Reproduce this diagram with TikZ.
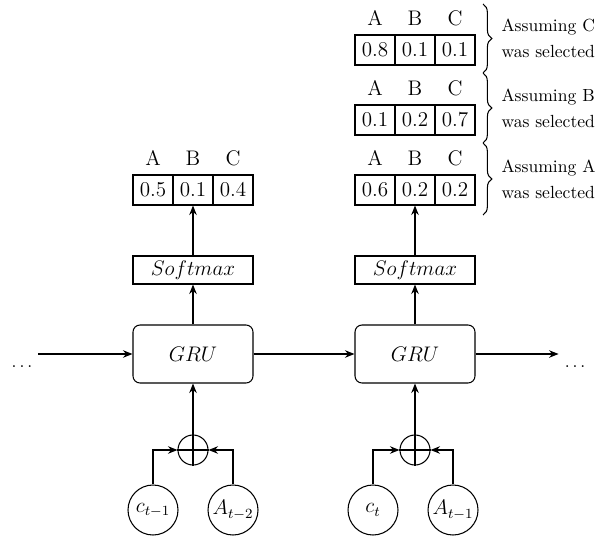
\documentclass[tikz,border=0pt]{standalone}
\usepackage{amsmath,amssymb}
\usepackage{tikz}
\usetikzlibrary{arrows.meta,positioning,calc,decorations.pathreplacing}
\tikzset{
  unit/.style={draw, rounded corners=4pt, line width=0.6pt, minimum width=2.4cm,
               minimum height=1.16cm, inner sep=0pt, font=\large},
  layer/.style={draw, line width=0.6pt, minimum width=2.4cm, minimum height=0.56cm,
                inner sep=0pt, font=\large},
  cell/.style={draw, line width=0.6pt, minimum width=0.8cm, minimum height=0.6cm,
               inner sep=0pt, font=\large},
  addop/.style={draw, circle, line width=0.6pt, minimum size=0.6cm, inner sep=0pt},
  token/.style={draw, circle, line width=0.6pt, minimum size=1cm, inner sep=0pt,
                font=\large},
  arrow/.style={-{Stealth[length=1.9mm,width=1.5mm]}, line width=0.6pt},
  assume/.style={decorate, decoration={brace, amplitude=5pt}, line width=0.6pt},
  note/.style={align=left, anchor=west, inner sep=0pt, xshift=0.36cm}
}

\begin{document}
\begin{tikzpicture}[x=1cm,y=1cm,label distance=1.5pt,every label/.style={font=\large}]
        \useasboundingbox (0,0) rectangle (11.96,10.76);
        % step t-1
        \node[unit] (gru1) at (3.86,3.68) {$GRU$};
        \node[layer] (soft1) at (3.86,5.36) {$Softmax$};
        \node[cell,label=above:A] (p1a) at (3.06,6.96) {0.5};
        \node[cell,label=above:B] (p1b) at (3.86,6.96) {0.1};
        \node[cell,label=above:C] (p1c) at (4.66,6.96) {0.4};
        \node[addop] (add1) at (3.86,1.76) {};
        \draw[line width=0.6pt] (add1.north) -- (add1.south) (add1.west) -- (add1.east);
        \node[token] (c1) at (3.06,0.56) {$c_{t-1}$};
        \node[token] (a1) at (4.66,0.56) {$A_{t-2}$};

        % step t
        \node[unit] (gru2) at (8.30,3.68) {$GRU$};
        \node[layer] (soft2) at (8.30,5.36) {$Softmax$};
        \node[cell,label=above:A] (pAa) at (7.50,6.96) {0.6};
        \node[cell,label=above:B] (pAb) at (8.30,6.96) {0.2};
        \node[cell,label=above:C] (pAc) at (9.10,6.96) {0.2};
        \node[cell,label=above:A] (pBa) at (7.50,8.36) {0.1};
        \node[cell,label=above:B] (pBb) at (8.30,8.36) {0.2};
        \node[cell,label=above:C] (pBc) at (9.10,8.36) {0.7};
        \node[cell,label=above:A] (pCa) at (7.50,9.76) {0.8};
        \node[cell,label=above:B] (pCb) at (8.30,9.76) {0.1};
        \node[cell,label=above:C] (pCc) at (9.10,9.76) {0.1};
        \node[addop] (add2) at (8.30,1.76) {};
        \draw[line width=0.6pt] (add2.north) -- (add2.south) (add2.west) -- (add2.east);
        \node[token] (c2) at (7.46,0.56) {$c_t$};
        \node[token] (a2) at (9.06,0.56) {$A_{t-1}$};

        \node (dotsl) at (0.44,3.42) {$\ldots$};
        \node (dotsr) at (11.50,3.42) {$\ldots$};

        \draw[arrow] (dotsl.east |- gru1.west) -- (gru1.west);
        \draw[arrow] (gru1.east) -- (gru2.west);
        \draw[arrow] (gru2.east) -- (dotsr.west |- gru2.east);
        \draw[arrow] (c1.north) |- (add1.west);
        \draw[arrow] (a1.north) |- (add1.east);
        \draw[arrow] (add1.north) -- (gru1.south);
        \draw[arrow] (gru1.north) -- (soft1.south);
        \draw[arrow] (soft1.north) -- (p1b.south);
        \draw[arrow] (c2.north) |- (add2.west);
        \draw[arrow] (a2.north) |- (add2.east);
        \draw[arrow] (add2.north) -- (gru2.south);
        \draw[arrow] (gru2.north) -- (soft2.south);
        \draw[arrow] (soft2.north) -- (pAb.south);

        \draw[assume] (9.66,10.68) -- (9.66,9.30)
          node[note,midway] {Assuming C\\[3pt]was selected};
        \draw[assume] (9.66,9.30) -- (9.66,7.90)
          node[note,midway] {Assuming B\\[3pt]was selected};
        \draw[assume] (9.66,7.90) -- (9.66,6.46)
          node[note,midway] {Assuming A\\[3pt]was selected};
      \end{tikzpicture}
\end{document}
